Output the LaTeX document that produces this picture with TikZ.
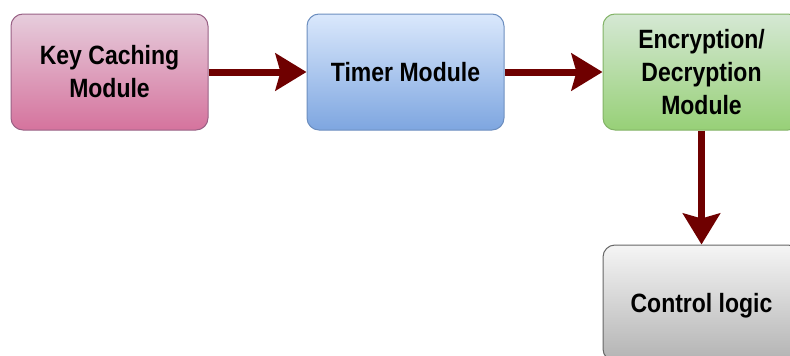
\documentclass[tikz,border=0pt]{standalone}
\usepackage{fontspec}
\setmainfont{Liberation Sans}
\usetikzlibrary{arrows.meta}
\newcommand\vtext[1]{\raisebox{-2.5pt}[\height][\depth]{\scalebox{1}[1.15]{\begin{tabular}{@{}c@{}}#1\end{tabular}}}}
\definecolor{arrowred}{HTML}{6F0000}
\tikzset{
  box/.style={draw, line width=1pt, rounded corners=12pt, minimum width=197pt, minimum height=116pt,
    align=center, font=\fontsize{23}{28.7}\selectfont\bfseries, inner sep=0pt},
  pinkbox/.style={box, draw=pinkline, top color=pinktop, bottom color=pinkbot},
  bluebox/.style={box, draw=blueline, top color=bluetop, bottom color=bluebot},
  greenbox/.style={box, draw=greenline, top color=greentop, bottom color=greenbot},
  graybox/.style={box, draw=grayline, top color=graytop, bottom color=graybot},
  flow/.style={draw=arrowred, line width=7pt, -{Stealth[length=31pt, width=37pt, inset=5pt]}}
}
\definecolor{pinkline}{HTML}{996185}
\definecolor{pinktop}{HTML}{E6CDDC}
\definecolor{pinkbot}{HTML}{D5739D}
\definecolor{blueline}{HTML}{6C8EBF}
\definecolor{bluetop}{HTML}{DAE8FC}
\definecolor{bluebot}{HTML}{7EA6E0}
\definecolor{greenline}{HTML}{82B366}
\definecolor{greentop}{HTML}{D5E8D4}
\definecolor{greenbot}{HTML}{97D077}
\definecolor{grayline}{HTML}{666666}
\definecolor{graytop}{HTML}{F5F5F5}
\definecolor{graybot}{HTML}{B3B3B3}
\begin{document}
\begin{tikzpicture}[x=1pt, y=-1pt]
\useasboundingbox (0,0) rectangle (790,356);
\clip (0,0) rectangle (790,356);
\node[pinkbox] (key) at (109.5,72) {\vtext{Key Caching\\Module}};
\node[bluebox] (timer) at (405.5,72) {\vtext{Timer Module}};
\node[greenbox] (enc) at (701.5,72) {\vtext{Encryption/\\Decryption\\Module}};
\node[graybox] (ctrl) at (701.5,303) {\vtext{Control logic}};
\draw[flow] (key) -- (timer);
\draw[flow] (timer) -- (enc);
\draw[flow] (enc) -- (ctrl);
\end{tikzpicture}
\end{document}
